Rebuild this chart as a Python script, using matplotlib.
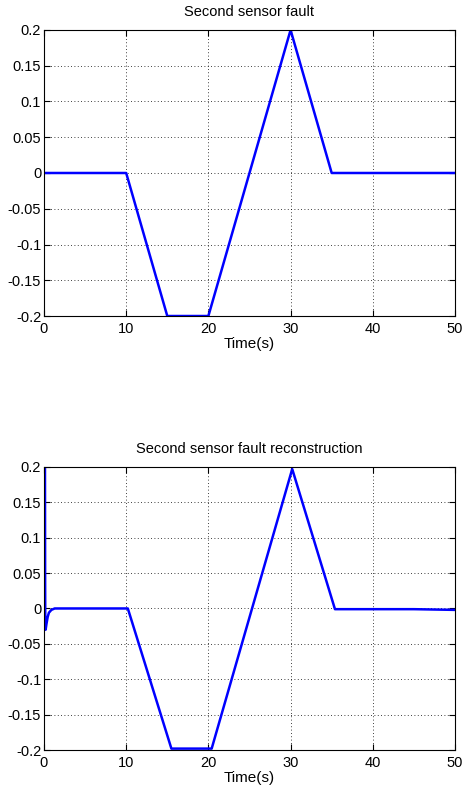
import matplotlib
matplotlib.use('Agg')
import matplotlib.pyplot as plt

plt.rcParams['font.family'] = ['Liberation Sans', 'DejaVu Sans']

# fault signal (breakpoints)
fault_t = [0, 10, 15, 20, 30, 35, 50]
fault_v = [0, 0, -0.2, -0.2, 0.2, 0, 0]

# reconstructed fault (breakpoints)
rec_t = [0.1, 0.12, 0.14, 0.16, 0.2, 0.3, 0.45, 0.6, 0.9, 1.3, 2, 5, 10, 10.2,
         15.5, 20.4, 30.2, 35.4, 40, 45, 50]
rec_v = [0.2, 0.2, 0.035, -0.03, -0.03, -0.022, -0.012, -0.006, -0.002, 0.0, 0.0, 0.0, 0.0, 0.0,
         -0.198, -0.198, 0.197, -0.001, -0.001, -0.001, -0.002]

xticks = [0, 10, 20, 30, 40, 50]
yticks = [-0.2, -0.15, -0.1, -0.05, 0, 0.05, 0.1, 0.15, 0.2]
yticklabels = ['-0.2', '-0.15', '-0.1', '-0.05', '0', '0.05', '0.1', '0.15', '0.2']

fig = plt.figure(figsize=(4.62, 7.93), dpi=100)
ax1 = fig.add_axes([0.0952, 0.6015, 0.8896, 0.3607])
ax2 = fig.add_axes([0.0952, 0.0542, 0.8896, 0.3570])

for ax, t, v, title in [(ax1, fault_t, fault_v, 'Second sensor fault'),
                        (ax2, rec_t, rec_v, 'Second sensor fault reconstruction')]:
    ax.plot(t, v, color='#0000ff', lw=1.8)
    ax.set_xlim(0, 50)
    ax.set_ylim(-0.2, 0.2)
    ax.set_xticks(xticks)
    ax.set_yticks(yticks)
    ax.set_yticklabels(yticklabels)
    ax.grid(True, color='black', linestyle=(0, (1, 3)), linewidth=0.6)
    ax.tick_params(direction='in', length=4, top=True, right=True, labelsize=10.5)
    ax.tick_params(axis='x', pad=4)
    ax.tick_params(axis='y', pad=2)
    ax.set_xlabel('Time(s)', fontsize=11, labelpad=1)
    ax.set_title(title, fontsize=10.5, pad=10)
    for s in ax.spines.values():
        s.set_linewidth(0.8)

fig.savefig('out.png', dpi=100)
